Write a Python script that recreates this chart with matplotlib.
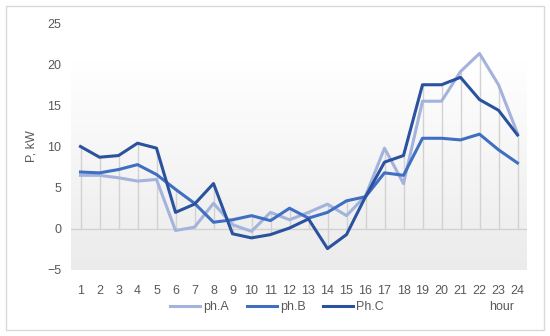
import numpy as np
import matplotlib.pyplot as plt
from matplotlib.patches import Rectangle
from matplotlib.lines import Line2D
from matplotlib.colors import LinearSegmentedColormap

hours = list(range(1, 25))
ph_a = [6.5, 6.5, 6.2, 5.8, 6.0, -0.2, 0.2, 3.1, 0.5, -0.3, 2.0, 1.1,
        2.0, 3.0, 1.6, 4.0, 9.8, 5.5, 15.5, 15.5, 19.1, 21.3, 17.5, 11.6]
ph_b = [6.9, 6.8, 7.2, 7.8, 6.6, 4.8, 3.1, 0.8, 1.1, 1.6, 1.0, 2.5,
        1.3, 2.0, 3.4, 3.9, 6.8, 6.5, 11.0, 11.0, 10.8, 11.5, 9.6, 8.0]
ph_c = [10.0, 8.7, 8.9, 10.4, 9.8, 2.0, 3.0, 5.5, -0.6, -1.1, -0.7, 0.1,
        1.2, -2.4, -0.7, 3.9, 8.1, 8.9, 17.5, 17.5, 18.4, 15.7, 14.4, 11.4]
names = ['ph.A', 'ph.B', 'Ph.C']
colors = ['#a3b3dc', '#3f6ec3', '#2b529e']
yticks = [-5, 0, 5, 10, 15, 20, 25]

plt.rcParams['font.family'] = ['Liberation Sans', 'DejaVu Sans']

fig = plt.figure(figsize=(5.5, 3.36), dpi=100)
fig.patches.append(Rectangle((6/550, 6/336), 538/550, 324/336, transform=fig.transFigure,
                             fill=False, edgecolor='#d9d9d9', linewidth=1))
ax = fig.add_axes([71/550, 1 - 270/336, 456/550, 247/336])

# grey-to-white gradient fill of the plot area
grad = np.linspace(0, 1, 256).reshape(-1, 1)
cm = LinearSegmentedColormap.from_list('g', [(0, '#ebebeb'), (0.85, '#ffffff'), (1, '#ffffff')])
ax.imshow(grad, extent=(0, 1, 0, 1), transform=ax.transAxes, aspect='auto',
          cmap=cm, origin='lower', zorder=0)

series = [ph_a, ph_b, ph_c]
data = np.array(series)
lo = np.minimum(data.min(axis=0), 0)
hi = np.maximum(data.max(axis=0), 0)
ax.vlines(hours, lo, hi, colors='#d2d2d2', linewidth=1, zorder=1)
ax.axhline(0, color='#d2d2d2', linewidth=1, zorder=1)

for vals, c, n in zip(series, colors, names):
    ax.plot(hours, vals, color=c, linewidth=2.2, label=n, zorder=3)

ax.set_xlim(0.5, 24.5)
ax.set_ylim(-5, 25)
ax.set_xticks(hours)
ax.set_yticks(yticks)
ax.tick_params(length=0, labelsize=9, labelcolor='#595959', pad=7)
ax.tick_params(axis='x', pad=11)
for s in ax.spines.values():
    s.set_visible(False)
ax.set_ylabel('P, kW', fontsize=9, color='#595959', labelpad=7)

handles = [Line2D([], [], color=c, linewidth=2.2) for c in colors]
fig.legend(handles, names, loc='center', bbox_to_anchor=(277/550, 1 - 307/336), ncol=3,
           frameon=False, fontsize=9, labelcolor='#595959', handlelength=2.4,
           handletextpad=0.25, columnspacing=1.4)
fig.text(502/550, 1 - 307/336, 'hour', fontsize=9, color='#595959', ha='center', va='center')

plt.savefig('out.png', dpi=100)
